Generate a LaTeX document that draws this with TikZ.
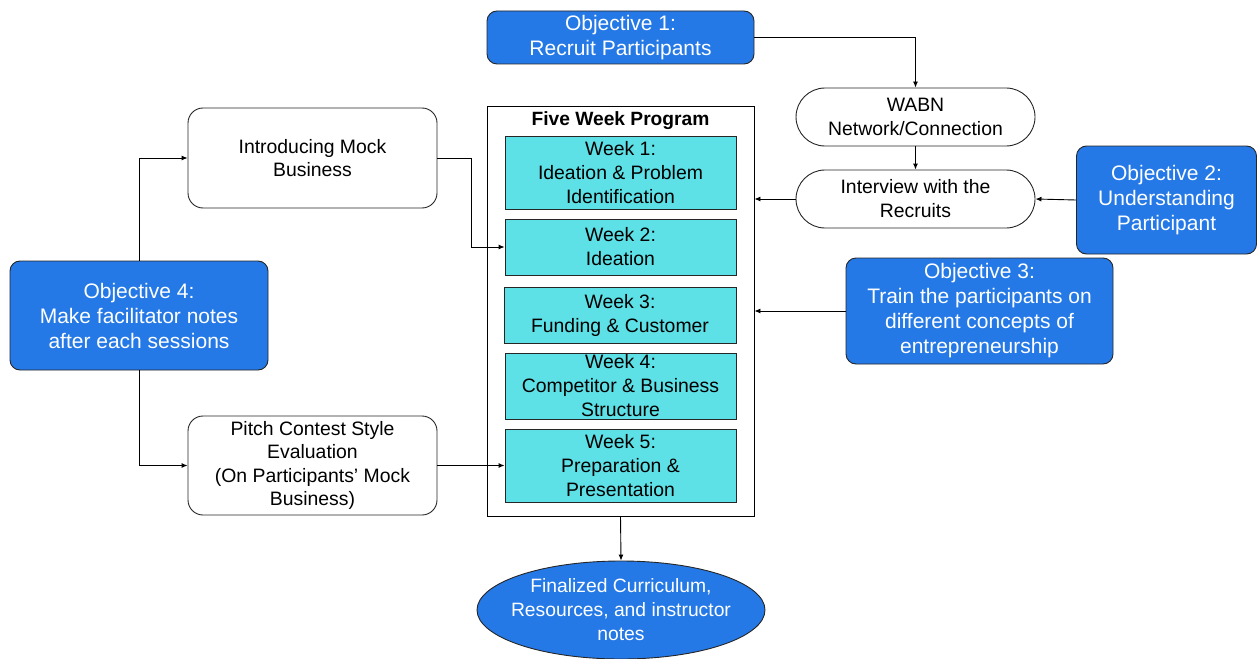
\documentclass[tikz,border=0pt]{standalone}
\usepackage{fontspec}
\setmainfont{Liberation Sans}
\usetikzlibrary{arrows.meta,shapes.misc,shapes.geometric}
\definecolor{objblue}{RGB}{36,121,230}
\definecolor{weekcyan}{RGB}{93,224,230}
\begin{document}
\begin{tikzpicture}[x=1pt,y=1pt,
  base/.style={draw=black!85, line width=0.9pt, align=center, inner sep=0pt},
  objbox/.style={base, fill=objblue, text=white, rounded corners=10pt, font=\fontsize{21}{25}\selectfont},
  whitebox/.style={base, fill=white, rounded corners=15pt, font=\fontsize{19.4}{23.5}\selectfont},
  pill/.style={base, fill=white, rounded rectangle, font=\fontsize{19.4}{24}\selectfont},
  weekbox/.style={base, fill=weekcyan, font=\fontsize{19.4}{24}\selectfont},
  arr/.style={draw=black, line width=0.9pt, -{Latex[length=6pt,width=5pt]}},
  ln/.style={draw=black, line width=0.9pt}]
\useasboundingbox (0,0) rectangle (1257,-658);

% Program box
\node[base, draw=black, fill=white, minimum width=267pt, minimum height=410pt] (prog) at (620.5,-311) {};
\node[font=\fontsize{19.2}{22}\bfseries\selectfont, inner sep=0pt] (title) at (620.5,-121) {Five Week Program};
\node[weekbox, minimum width=231pt, minimum height=73pt] (w1) at (620.5,-172.5) {Week 1:\\Ideation \& Problem\\Identification};
\node[weekbox, minimum width=231pt, minimum height=56pt] (w2) at (620.5,-247) {Week 2:\\Ideation};
\node[weekbox, minimum width=232pt, minimum height=56pt] (w3) at (620,-315) {Week 3:\\Funding \& Customer};
\node[weekbox, minimum width=231pt, minimum height=66pt] (w4) at (620.5,-386) {Week 4:\\Competitor \& Business\\Structure};
\node[weekbox, minimum width=231pt, minimum height=73pt] (w5) at (620.5,-465.5) {Week 5:\\Preparation \&\\Presentation};

% Objectives
\node[objbox, minimum width=267pt, minimum height=53pt] (obj1) at (620.5,-37.5) {Objective 1:\\Recruit Participants};
\node[objbox, minimum width=180pt, minimum height=108pt] (obj2) at (1166.5,-200) {Objective 2:\\Understanding\\Participant};
\node[objbox, minimum width=267pt, minimum height=106pt] (obj3) at (979.5,-311) {Objective 3:\\Train the participants on\\different concepts of\\entrepreneurship};
\node[objbox, minimum width=258pt, minimum height=109pt] (obj4) at (139,-315.5) {Objective 4:\\Make facilitator notes\\after each sessions};

% Right column
\node[pill, minimum width=239pt, minimum height=58pt] (wabn) at (915.5,-117) {WABN\\Network/Connection};
\node[pill, minimum width=239pt, minimum height=58pt] (intv) at (915.5,-199) {Interview with the\\Recruits};

% Left column
\node[whitebox, minimum width=249pt, minimum height=100pt] (intro) at (312.5,-158) {Introducing Mock\\Business};
\node[whitebox, minimum width=249pt, minimum height=99pt] (pitch) at (312.5,-465.5) {Pitch Contest Style\\Evaluation\\(On Participants’ Mock\\Business)};

% Final
\node[base, ellipse, fill=objblue, text=white, inner xsep=-12pt, inner ysep=-4pt, minimum width=288pt, minimum height=98pt, font=\fontsize{19.3}{24}\selectfont] (final) at (621,-610) {Finalized Curriculum,\\Resources, and instructor\\notes};

% Connectors
\draw[arr] (obj1.east) -| (wabn.north);
\draw[arr] (wabn.south) -- (intv.north);
\draw[arr] (intv.west) -- (intv.west -| prog.east);
\draw[arr] (obj2.west) -- (intv.east);
\draw[arr] (obj3.west) -- (obj3.west -| prog.east);
\coordinate (introbend) at (471,-158);
\draw[arr] (intro.east) -- (introbend) |- (w2.west);
\draw[arr] (obj4.north) |- (intro.west);
\draw[arr] (obj4.south) |- (pitch.west);
\draw[arr] (pitch.east) -- (w5.west);
\draw[arr] (prog.south) -- (final.north);
\end{tikzpicture}
\end{document}
